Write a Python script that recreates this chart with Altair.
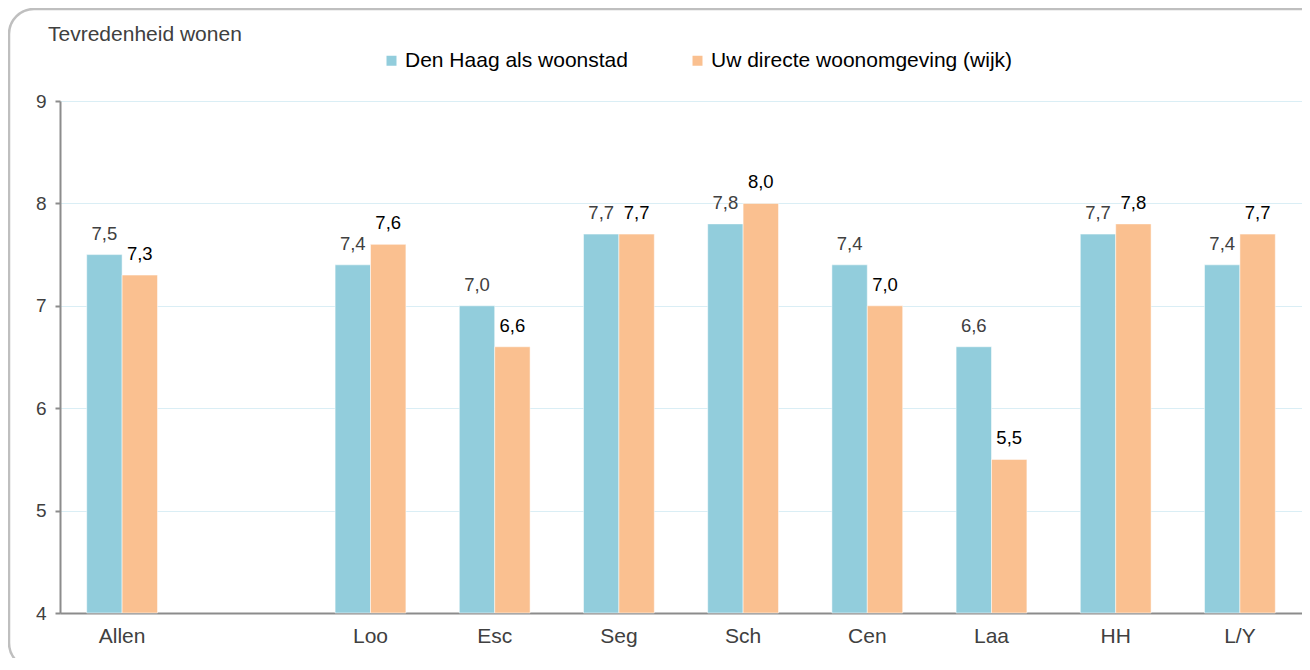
import altair as alt
import pandas as pd

categories = ["Allen", "Loo", "Esc", "Seg", "Sch", "Cen", "Laa", "HH", "L/Y"]
series_names = ["Den Haag als woonstad", "Uw directe woonomgeving (wijk)"]
den_haag = [7.5, 7.4, 7.0, 7.7, 7.8, 7.4, 6.6, 7.7, 7.4]
wijk = [7.3, 7.6, 6.6, 7.7, 8.0, 7.0, 5.5, 7.8, 7.7]
y_ticks = [4, 5, 6, 7, 8, 9]
colors = ["#92CDDC", "#FAC090"]
title_text = "Tevredenheid wonen"

gap = "_gap"
x_domain = [categories[0], gap] + categories[1:]

rows = []
for c, a, b in zip(categories, den_haag, wijk):
    for s, v in zip(series_names, (a, b)):
        rows.append({"cat": c, "series": s, "value": v,
                     "label": f"{v:.1f}".replace(".", ",")})
df = pd.DataFrame(rows)

FONT = "Liberation Sans"
W, H = 1242, 512

x_enc = alt.X(
    "cat:N",
    sort=x_domain,
    scale=alt.Scale(domain=x_domain, paddingInner=0.43, paddingOuter=0.215),
    axis=alt.Axis(
        title=None,
        labelExpr="datum.value == '_gap' ? '' : datum.value",
        ticks=False,
        labelPadding=12,
        labelFontSize=21,
        labelFont=FONT,
        labelColor="#404040",
        labelAngle=0,
        domainColor="#8C8C8C",
        domainWidth=2,
        grid=False,
    ),
)
xo_enc = alt.XOffset("series:N", scale=alt.Scale(domain=series_names, paddingInner=0, paddingOuter=0))
y_enc = alt.Y(
    "value:Q",
    scale=alt.Scale(domain=[4, 9], nice=False, zero=False),
    axis=alt.Axis(
        title=None,
        values=y_ticks,
        format="d",
        tickSize=5,
        tickColor="#8C8C8C",
        tickWidth=2,
        domainColor="#8C8C8C",
        domainWidth=2,
        gridColor="#DAEEF5",
        gridWidth=1.2,
        labelPadding=9,
        labelFontSize=19,
        labelFont=FONT,
        labelColor="#404040",
    ),
)

base = alt.Chart(df)

bars = base.mark_bar(stroke="white", strokeWidth=1, strokeOpacity=0.5).encode(
    x=x_enc,
    xOffset=xo_enc,
    y=y_enc,
    y2=alt.datum(4),
    color=alt.Color(
        "series:N",
        scale=alt.Scale(domain=series_names, range=colors),
        legend=alt.Legend(
            title=None,
            orient="none",
            legendX=321,
            legendY=-51,
            direction="horizontal",
            symbolType="square",
            symbolSize=100,
            symbolStrokeWidth=0,
            labelFontSize=21,
            labelFont=FONT,
            labelColor="#000000",
            labelOffset=3,
            labelLimit=500,
            columnPadding=59,
        ),
    ),
)

labels = base.mark_text(dy=-15, baseline="alphabetic", fontSize=18.5, font=FONT).encode(
    x=x_enc,
    xOffset=xo_enc,
    y=y_enc,
    text="label:N",
    color=alt.condition(alt.datum.series == series_names[0], alt.value("#404040"), alt.value("#000000")),
)

border = alt.Chart(pd.DataFrame({"k": [0]})).mark_rect(
    fill="white", fillOpacity=0, stroke="#BFBFBF", strokeWidth=2.5, cornerRadius=25, clip=False
).encode(
    x=alt.value(-51), x2=alt.value(1280), y=alt.value(-92), y2=alt.value(567)
)

chart = alt.layer(border, bars, labels).properties(
    width=W,
    height=H,
    padding={"left": 52, "top": 93, "right": 0, "bottom": 45},
    autosize=alt.AutoSizeParams(type="none"),
    title=alt.TitleParams(
        title_text,
        anchor="start",
        frame="group",
        dx=-12,
        dy=37,
        offset=0,
        fontSize=21,
        font=FONT,
        fontWeight="normal",
        color="#404040",
    ),
).configure_view(stroke=None)

chart.save("out.html", embed_options={"renderer": "svg", "actions": False})
